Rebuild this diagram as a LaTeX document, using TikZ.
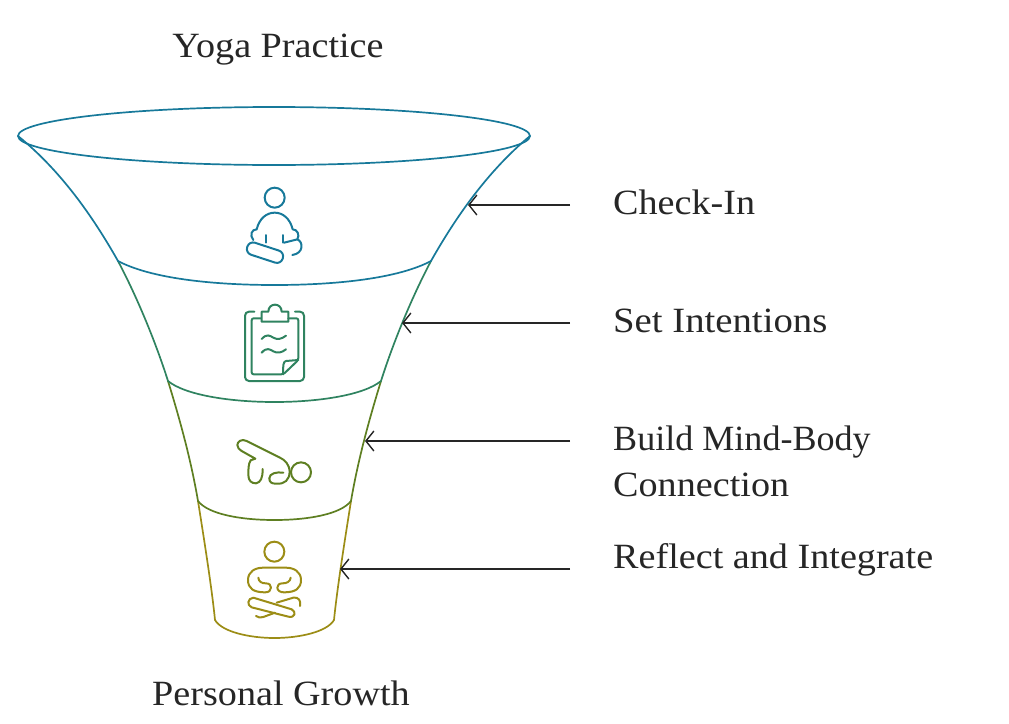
\documentclass[tikz,border=0pt]{standalone}
\usepackage{fontspec}
\setmainfont[FakeStretch=1.075]{Liberation Serif}
\usetikzlibrary{arrows.meta}
\definecolor{cteal}{HTML}{17799A}
\definecolor{cgreen}{HTML}{2F8360}
\definecolor{colive}{HTML}{5E7F22}
\definecolor{cgold}{HTML}{9C8D16}
\definecolor{ctext}{HTML}{262626}
\tikzset{
  lbl/.style={inner sep=0pt,anchor=base west,text=ctext,font=\fontsize{35.5}{36}\selectfont},
  ttl/.style={inner sep=0pt,anchor=base,text=ctext,font=\fontsize{35.5}{36}\selectfont},
  pointer/.style={draw=ctext,line width=1.2pt,-{Straight Barb[length=8pt,width=20pt,line width=1.4pt]}},
  seg/.style={line width=1.7pt,line join=round,line cap=round},
  ico/.style={line width=2pt,line join=round,line cap=round},
}
\begin{document}
\begin{tikzpicture}[x=1pt,y=-1pt]
\useasboundingbox (0,0) rectangle (1009,723);
% funnel, bottom first
\coordinate (l0) at (18,136); \coordinate (r0) at (530,136);
\coordinate (l1) at (118,261); \coordinate (r1) at (431,261);
\coordinate (l2) at (168,381); \coordinate (r2) at (381,381);
\coordinate (l3) at (198,501); \coordinate (r3) at (351,501);
\coordinate (l4) at (215,620); \coordinate (r4) at (334,620);
\draw[seg,cgold] (l3) .. controls (205,545) and (212,590) .. (l4)
  .. controls (222,632) and (250,638) .. (274.5,638) .. controls (299,638) and (327,632) .. (r4)
  .. controls (337,590) and (344,545) .. (r3);
\draw[seg,colive] (l2) .. controls (180,420) and (191,460) .. (l3)
  .. controls (208,514) and (240,520) .. (274.5,520) .. controls (309,520) and (341,514) .. (r3)
  .. controls (358,460) and (369,420) .. (r2);
\draw[seg,cgreen] (l1) .. controls (136,295) and (155,340) .. (l2)
  .. controls (185,395) and (230,402) .. (274.5,402) .. controls (319,402) and (364,395) .. (r2)
  .. controls (394,340) and (413,295) .. (r1);
\draw[seg,cteal] (l0) .. controls (60,170) and (92,215) .. (l1)
  .. controls (150,278) and (210,285) .. (274.5,285) .. controls (339,285) and (399,278) .. (r1)
  .. controls (457,215) and (489,170) .. (r0);
\draw[seg,cteal] (274,136) ellipse [x radius=256,y radius=29];
% icon 1
\begin{scope}[shift={(220,170)},scale=1/3,ico,cteal]
\draw (164,83) circle (30);
\draw (100,210) .. controls (88,195) and (95,178) .. (110,178)
  .. controls (118,145) and (140,128) .. (164,128)
  .. controls (188,128) and (210,145) .. (218,178)
  .. controls (232,178) and (240,195) .. (232,208) -- (192,218);
\draw (232,208) .. controls (250,215) and (252,250) .. (217,255);
\draw (137,195) -- (137,218); \draw (188,195) -- (188,218);
\draw[rounded corners=6pt] (87.7,212.6) -- (194,247.4) -- (182.4,283.4) -- (75.9,248.6) -- cycle;
\end{scope}
% icon 2
\begin{scope}[shift={(220,295)},scale=1/3,ico,cgreen]
\draw[rounded corners=4pt] (103,50) -- (75,50) -- (75,258) -- (252,258) -- (252,50) -- (225,50);
\draw[rounded corners=2pt] (123,70) -- (95,70) -- (95,238) -- (190,238) -- (235,195) -- (235,70) -- (205,70);
\draw (190,238) .. controls (188,215) and (190,198) .. (198,198) -- (235,195);
\draw (125,50) -- (145,50) .. controls (145,22) and (185,22) .. (185,50) -- (205,50) -- (205,80) -- (125,80) -- cycle;
\draw (125,132) .. controls (140,115) and (150,122) .. (160,128) .. controls (172,135) and (185,132) .. (198,122);
\draw (125,173) .. controls (140,156) and (150,163) .. (160,169) .. controls (172,176) and (185,173) .. (198,163);
\end{scope}
% icon 3
\begin{scope}[shift={(220,425)},scale=1/3,ico,colive]
\draw (243,142) circle (30);
\draw (148,160) .. controls (148,145) and (170,140) .. (190,143);
\draw (148,160) .. controls (148,172) and (155,176) .. (168,176) .. controls (195,178) and (208,165) .. (209,140)
  .. controls (208,118) and (195,105) .. (180,98) -- (80,48)
  .. controls (65,40) and (52,50) .. (52,60) .. controls (52,68) and (58,74) .. (65,78) -- (106,101) -- (92,106)
  .. controls (85,115) and (85,135) .. (85,150) .. controls (85,168) and (95,175) .. (108,175)
  .. controls (122,172) and (128,160) .. (128,132);
\end{scope}
% icon 4
\begin{scope}[shift={(220,530)},scale=1/3,ico,cgold]
\draw (163,65) circle (30);
\draw (115,143) .. controls (116,155) and (125,160) .. (137,160) .. controls (148,160) and (153,165) .. (153,173)
  .. controls (153,182) and (146,187) .. (135,187) .. controls (100,187) and (84,175) .. (84,150)
  .. controls (84,125) and (105,113) .. (130,113) -- (197,113)
  .. controls (222,113) and (243,125) .. (243,150) .. controls (243,175) and (227,187) .. (192,187)
  .. controls (181,187) and (172,182) .. (172,173) .. controls (172,165) and (177,160) .. (188,160)
  .. controls (200,160) and (211,155) .. (212,143);
\draw (100,203) -- (215,238) .. controls (230,245) and (225,265) .. (205,260) -- (95,232)
  .. controls (80,226) and (82,205) .. (100,203);
\draw (240,228) .. controls (244,212) and (235,200) .. (220,203) -- (170,218);
\draw (108,258) .. controls (115,264) and (122,263) .. (130,261) -- (165,248);
\end{scope}
% labels
\node[ttl] (top) at (278,57) {Yoga Practice};
\node[ttl] (bottom) at (281,705) {Personal Growth};
\node[lbl] (a) at (613,214) {Check-In};
\node[lbl] (b) at (613,332) {\scalebox{1.015}[1]{Set Intentions}};
\node[lbl] (c) at (613,450) {\scalebox{0.945}[1]{Build Mind-Body}};
\node[lbl] (c2) at (613,496) {Connection};
\node[lbl] (d) at (613,568) {Reflect and Integrate};
% pointers
\coordinate (a0) at (570,205); \coordinate (a1) at (468,205);
\coordinate (b0) at (570,323); \coordinate (b1) at (402,323);
\coordinate (c0) at (570,441); \coordinate (c1) at (365,441);
\coordinate (d0) at (570,569); \coordinate (d1) at (340,569);
\draw[pointer] (a0) -- (a1);
\draw[pointer] (b0) -- (b1);
\draw[pointer] (c0) -- (c1);
\draw[pointer] (d0) -- (d1);
\end{tikzpicture}
\end{document}
